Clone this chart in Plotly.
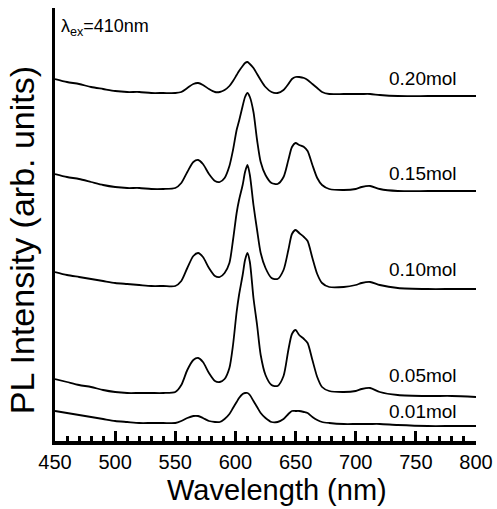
import plotly.graph_objects as go

wavelength = [450, 460, 470, 480, 490, 500, 510, 520, 530, 540, 550, 555, 560, 565, 569, 573, 578,
              583, 587, 591, 595, 598, 601, 603, 606, 608, 610, 612, 615, 618, 621, 625, 630, 635,
              640, 644, 647, 650, 653, 657, 660, 664, 668, 672, 678, 690, 700, 705, 712, 720, 735,
              760, 780, 800]

pl_020 = [362, 359, 357, 354, 352, 350, 349, 349, 348, 348, 348, 349, 353, 357, 358, 356, 352,
          349, 349, 351, 355, 360, 366, 370, 375, 378, 379, 377, 373, 367, 361, 354, 349, 348,
          351, 357, 362, 364, 364, 363, 361, 357, 353, 349, 347, 347, 347, 347, 347, 346, 345,
          345, 345, 345]

pl_015 = [267, 264, 262, 259, 256, 254, 253, 253, 252, 252, 253, 258, 269, 279, 281, 277, 267,
          260, 259, 263, 275, 291, 311, 320, 335, 344, 348, 344, 329, 301, 279, 266, 258, 257,
          264, 281, 294, 298, 296, 294, 290, 276, 263, 256, 252, 251, 252, 254, 255, 252, 250,
          250, 250, 250]

pl_010 = [169, 166, 164, 162, 160, 158, 157, 156, 155, 155, 155, 160, 173, 185, 188, 184, 173,
          165, 164, 168, 178, 201, 228, 241, 256, 269, 276, 266, 236, 211, 188, 173, 163, 162,
          171, 191, 207, 211, 208, 204, 200, 183, 167, 158, 154, 154, 156, 158, 159, 156, 153,
          152, 152, 152]

pl_005 = [62, 59, 56, 54, 51, 49, 48, 48, 48, 48, 49, 56, 71, 81, 83, 79, 68,
          60, 59, 62, 73, 96, 129, 146, 166, 181, 188, 179, 143, 116, 86, 66, 56, 55,
          65, 91, 107, 111, 106, 102, 98, 81, 64, 54, 50, 49, 50, 52, 53, 49, 46,
          45, 45, 44]

pl_001 = [30, 28, 26, 24, 22, 20, 19, 18, 18, 18, 18, 20, 23, 25, 25, 23, 20,
          19, 19, 22, 27, 33, 39, 43, 47, 48, 48, 46, 40, 34, 28, 23, 19, 19,
          22, 27, 30, 30, 30, 29, 28, 24, 21, 19, 18, 17, 17, 17, 17, 17, 16,
          15, 15, 15]

series_names = ["0.20mol", "0.15mol", "0.10mol", "0.05mol", "0.01mol"]
series_values = [pl_020, pl_015, pl_010, pl_005, pl_001]
x_tick_values = [450, 500, 550, 600, 650, 700, 750, 800]
x_tick_labels = ["450", "500", "550", "600", "650", "700", "750", "800"]

FONT = "Arial, Liberation Sans, sans-serif"

fig = go.Figure()
for name, vals in zip(series_names, series_values):
    fig.add_trace(go.Scatter(
        x=wavelength, y=vals, mode="lines", name=name,
        line=dict(color="black", width=1.8, shape="spline", smoothing=0.7),
        showlegend=False, hoverinfo="skip"))

label_offsets = [18, 18, 20, 22, 15]
for name, vals, off in zip(series_names, series_values, label_offsets):
    fig.add_annotation(x=756, y=vals[-1] + off, xref="x", yref="y", text=name,
                       showarrow=False, xanchor="center", yanchor="middle",
                       font=dict(family=FONT, size=19, color="black"))

fig.add_annotation(x=0.01, y=0.956, xref="paper", yref="paper",
                   text="λ<sub>ex</sub>=410nm", showarrow=False,
                   xanchor="left", yanchor="middle",
                   font=dict(family=FONT, size=18, color="black"))

# axis titles
fig.add_annotation(x=0.527, y=-0.113, xref="paper", yref="paper",
                   text="Wavelength (nm)", showarrow=False,
                   xanchor="center", yanchor="middle",
                   font=dict(family=FONT, size=29, color="black"))
fig.add_annotation(x=-0.078, y=0.464, xref="paper", yref="paper",
                   text="PL Intensity (arb. units)", showarrow=False, textangle=-90,
                   xanchor="center", yanchor="middle",
                   font=dict(family=FONT, size=34, color="black"))

fig.update_layout(
    width=497, height=509,
    margin=dict(l=55, r=21, t=8, b=68, autoexpand=False),
    paper_bgcolor="white", plot_bgcolor="white",
    font=dict(family=FONT, color="black"),
    xaxis=dict(
        range=[450, 800], tickvals=x_tick_values, ticktext=x_tick_labels,
        ticks="inside", ticklen=10, tickwidth=3, tickcolor="black",
        minor=dict(dtick=10, tick0=450, ticks="inside", ticklen=5, tickwidth=3, tickcolor="black"),
        showline=True, linewidth=4, linecolor="black", mirror=False,
        showgrid=False, zeroline=False, automargin=False,
        tickfont=dict(family=FONT, size=20, color="black"),
    ),
    yaxis=dict(
        range=[0, 433], showticklabels=False, ticks="",
        showline=True, linewidth=3, linecolor="black", mirror=False,
        showgrid=False, zeroline=False, automargin=False,
    ),
)

fig.write_html("out.html",
               config={"displayModeBar": False},
               post_script="document.body.style.margin='0';document.body.style.overflow='hidden';")
